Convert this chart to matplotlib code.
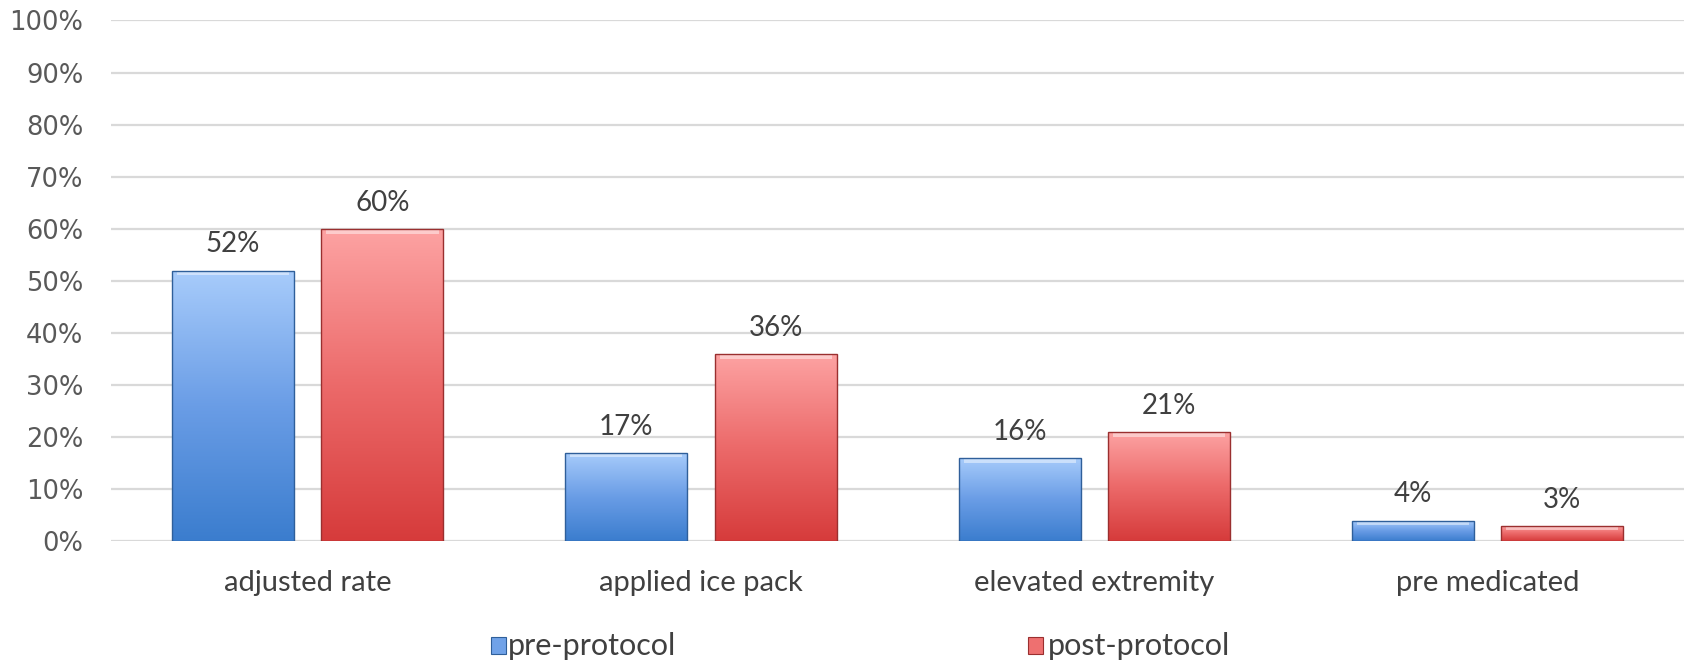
import numpy as np
import matplotlib
matplotlib.use("Agg")
import matplotlib.pyplot as plt
from matplotlib.patches import Rectangle
from matplotlib.colors import LinearSegmentedColormap
from matplotlib.ticker import MultipleLocator, PercentFormatter

categories = ["adjusted rate", "applied ice pack", "elevated extremity", "pre medicated"]
pre_protocol = [52, 17, 16, 4]
post_protocol = [60, 36, 21, 3]
series_names = ["pre-protocol", "post-protocol"]

TEXT = "#404040"
FONT = "Lato"
blue_cmap = LinearSegmentedColormap.from_list("b", ["#3b7dce", "#6a9de6", "#a8ccfb"])
red_cmap = LinearSegmentedColormap.from_list("r", ["#d63b3b", "#ec6a6a", "#fda3a3"])
blue_edge = "#2f5f9a"
red_edge = "#9a2f2f"

fig = plt.figure(figsize=(16.88, 6.61), dpi=100)
ax = fig.add_axes([0.0658, 0.181, 0.932, 0.788])

x = np.arange(len(categories))
w = 0.31
off = 0.19

grad = np.linspace(0, 1, 256).reshape(-1, 1)

def gradient_bars(bars, cmap, edge):
    for b in bars:
        b.set_facecolor("none")
        x0, y0 = b.get_x(), b.get_y()
        bw, bh = b.get_width(), b.get_height()
        im = ax.imshow(grad, cmap=cmap, aspect="auto", origin="lower",
                       extent=[x0, x0 + bw, y0, y0 + bh], zorder=2,
                       interpolation="bilinear")
        im.set_clip_path(b)
        ax.add_patch(Rectangle((x0 + bw * 0.04, y0 + bh - 0.9), bw * 0.92, 0.8,
                               facecolor="white", alpha=0.45, edgecolor="none", zorder=3))
        b.set_edgecolor(edge)
        b.set_linewidth(1.0)
        b.set_zorder(4)

bars1 = ax.bar(x - off, pre_protocol, w, zorder=4)
bars2 = ax.bar(x + off, post_protocol, w, zorder=4)
gradient_bars(bars1, blue_cmap, blue_edge)
gradient_bars(bars2, red_cmap, red_edge)

for bars, vals in ((bars1, pre_protocol), (bars2, post_protocol)):
    for b, v in zip(bars, vals):
        ax.annotate(f"{v}%", (b.get_x() + b.get_width() / 2, v),
                    xytext=(0, 13), textcoords="offset points",
                    ha="center", va="baseline", fontsize=20, color=TEXT,
                    family=FONT)

ax.set_xlim(-0.5, len(categories) - 0.5)
ax.set_ylim(0, 100)
ax.yaxis.set_major_locator(MultipleLocator(10))
ax.yaxis.set_major_formatter(PercentFormatter(decimals=0))
ax.grid(axis="y", color="#d9d9d9", linewidth=1.6, zorder=0)
ax.set_axisbelow(True)
for s in ax.spines.values():
    s.set_visible(False)
ax.tick_params(axis="both", length=0)
ax.tick_params(axis="y", labelsize=18.5, labelcolor="#595959", pad=20)
ax.set_xticks(x)
ax.set_xticklabels(categories, fontsize=21, color=TEXT, family=FONT)
ax.tick_params(axis="x", pad=20.5)

# legend
leg_items = [(series_names[0], blue_cmap, blue_edge, 0.291, 0.301),
             (series_names[1], red_cmap, red_edge, 0.609, 0.621)]
for name, cmap, edge, fx, tx in leg_items:
    fig.patches.append(Rectangle((fx, 0.0106), 0.0089, 0.025, transform=fig.transFigure,
                                 facecolor=cmap(0.55), edgecolor=edge, linewidth=0.8))
    fig.text(tx, 0.023, name, fontsize=22, color=TEXT, family=FONT,
             va="center", ha="left")

fig.savefig("out.png", dpi=100)
